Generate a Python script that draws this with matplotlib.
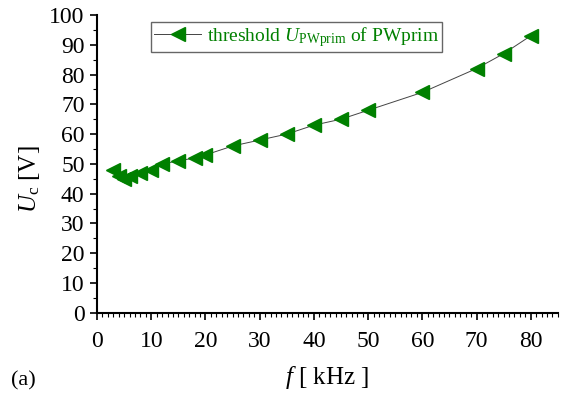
import matplotlib
matplotlib.use("Agg")
import matplotlib.pyplot as plt
from matplotlib.ticker import MultipleLocator

plt.rcParams['font.family'] = ['Liberation Serif', 'DejaVu Serif']
plt.rcParams['mathtext.fontset'] = 'custom'
plt.rcParams['mathtext.rm'] = 'Liberation Serif'
plt.rcParams['mathtext.it'] = 'Liberation Serif:italic'

# threshold voltage vs frequency
freq_khz = [3, 4, 5, 6, 8, 10, 12, 15, 18, 20, 25, 30, 35, 40, 45, 50, 60, 70, 75, 80]
u_c = [48, 46, 45, 46, 47, 48, 50, 51, 52, 53, 56, 58, 60, 63, 65, 68, 74, 82, 87, 93]

green = '#008000'

fig = plt.figure(figsize=(5.71, 3.93), dpi=100)
ax = fig.add_axes([0.170, 0.204, 0.807, 0.758])

ax.plot(freq_khz, u_c, color='#444444', lw=0.7, marker='<', ms=10,
        mfc=green, mec=green, label=r'threshold $U_{\mathrm{PWprim}}$ of PWprim')

ax.set_xlim(0, 85)
ax.set_ylim(0, 100)
ax.xaxis.set_major_locator(MultipleLocator(10))
ax.xaxis.set_minor_locator(MultipleLocator(1))
ax.yaxis.set_major_locator(MultipleLocator(10))
ax.yaxis.set_minor_locator(MultipleLocator(5))
ax.tick_params(which='major', direction='out', length=5, width=1.2, labelsize=17)
ax.tick_params(which='minor', direction='out', length=3, width=0.8)
ax.tick_params(axis='x', which='major', pad=8)
ax.tick_params(axis='y', which='major', pad=4)

for s in ['top', 'right']:
    ax.spines[s].set_visible(False)
for s in ['left', 'bottom']:
    ax.spines[s].set_linewidth(1.5)

ax.set_xlabel(r'$f$ [ kHz ]', fontsize=18, labelpad=9)
ax.set_ylabel(r'$U_{\mathrm{c}}$ [V]', fontsize=18)
ax.yaxis.set_label_coords(-0.12, 0.45)
fig.text(0.02, 0.02, '(a)', fontsize=16)

leg = ax.legend(loc='upper left', bbox_to_anchor=(0.118, 0.977), fontsize=14,
                labelcolor=green, fancybox=False, edgecolor='#666666',
                handlelength=2.4, handletextpad=0.3, borderpad=0.15,
                borderaxespad=0, framealpha=1)
leg.get_frame().set_linewidth(1.0)

fig.savefig('out.png', dpi=100)
